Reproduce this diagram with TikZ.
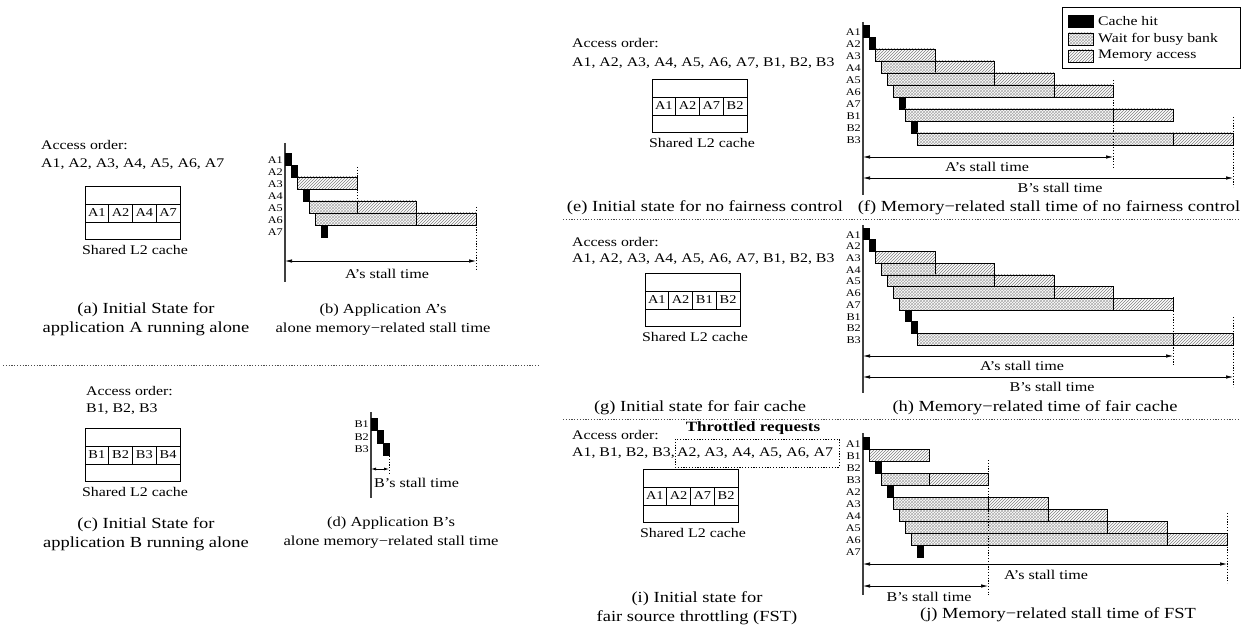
\documentclass[tikz,border=0pt]{standalone}
\usepackage{fontspec}
\setmainfont{Liberation Serif}[FakeStretch=1.2]
\usetikzlibrary{patterns,arrows.meta}
\newcommand{\cachebox}[7]{%
  \draw[line width=0.7pt] (#1,#2) rectangle ({#1+95},{#2+53});
  \node[cell] (#3c1) at ({#1+11.875},{#2+27}) {#4};
  \node[cell] (#3c2) at ({#1+35.625},{#2+27}) {#5};
  \node[cell] (#3c3) at ({#1+59.375},{#2+27}) {#6};
  \node[cell] (#3c4) at ({#1+83.125},{#2+27}) {#7};
  \node[shl] (#3lab) at ({#1+50},{#2+64}) {Shared L2 cache};
}
\begin{document}
\begin{tikzpicture}[x=1pt,y=-1pt,
  hitbar/.style={fill=black,draw=black,line width=0.6pt},
  waitbar/.style={draw=black,line width=0.6pt,preaction={fill=white},pattern=crosshatch,pattern color=gray!65},
  membar/.style={draw=black,line width=0.6pt,preaction={fill=white},pattern=north east lines,pattern color=gray},
  axisline/.style={line width=1.1pt,draw=black!75},
  guide/.style={line width=0.6pt,dash pattern=on 1.2pt off 1.6pt},
  sepline/.style={line width=0.7pt,dash pattern=on 1.2pt off 1.6pt,draw=black!70},
  stall/.style={line width=0.7pt,{Latex[length=7pt,width=3.5pt]}-{Latex[length=7pt,width=3.5pt]}},
  rowlab/.style={font=\fontsize{10.2}{10}\selectfont,anchor=east,inner sep=0pt},
  stlab/.style={font=\fontsize{13.4}{16}\selectfont,inner sep=0pt},
  acc/.style={font=\fontsize{13.2}{16}\selectfont,anchor=west,inner sep=0pt},
  capt/.style={font=\fontsize{15.4}{19}\selectfont,align=center,inner sep=0pt},
  captsm/.style={font=\fontsize{13.8}{19}\selectfont,align=center,inner sep=0pt},
  cell/.style={draw,line width=0.6pt,minimum width=23.75pt,minimum height=18pt,inner sep=0pt,font=\fontsize{12}{14}\selectfont},
  shl/.style={font=\fontsize{13.25}{16}\selectfont,inner sep=0pt},
  legtext/.style={font=\fontsize{13.1}{16}\selectfont,anchor=west,inner sep=0pt},
]
\useasboundingbox (0,0) rectangle (1250,631);

% ---------------- (a) ----------------
\node[acc] (aAcc) at (41,145) {Access order:};
\node[acc] (aOrd) at (41,164) {A1, A2, A3, A4, A5, A6, A7};
\cachebox{85}{186}{aC}{A1}{A2}{A4}{A7}
\node[capt] (aCap) at (146,319.5) {(a) Initial State for\\application A running alone};

% ---------------- (b) ----------------
\coordinate (bTop) at (285,143); \coordinate (bBot) at (285,282);
\draw[axisline] (bTop) -- (bBot);
\draw[hitbar] (285,153) rectangle (291,165);
\draw[hitbar] (291,165) rectangle (297,177);
\draw[membar] (297,177) rectangle (357,189);
\draw[hitbar] (303,189) rectangle (309,201);
\draw[waitbar] (309,201) rectangle (357,213);
\draw[membar] (357,201) rectangle (416,213);
\draw[waitbar] (315,213) rectangle (416,225);
\draw[membar] (416,213) rectangle (476,225);
\draw[hitbar] (321,225) rectangle (327,237);
\foreach \l [count=\k from 0] in {A1,A2,A3,A4,A5,A6,A7}
  \node[rowlab] (bL\l) at (283,{160+12*\k}) {\l};
\draw[guide] (357,167) -- (357,201);
\draw[guide] (476,207) -- (476,270);
\coordinate (bAs) at (285,261); \coordinate (bAe) at (476,261);
\draw[stall] (bAs) -- (bAe);
\node[stlab] (bAl) at (387,274) {A’s stall time};
\node[captsm] (bCap) at (383,319.5) {(b) Application A’s\\alone memory−related stall time};

% separator left
\coordinate (sL1) at (3,365); \coordinate (sL2) at (540,365);
\draw[sepline] (sL1) -- (sL2);

% ---------------- (c) ----------------
\node[acc] (cAcc) at (86,391) {Access order:};
\node[acc] (cOrd) at (86,409) {B1, B2, B3};
\cachebox{85}{428}{cC}{B1}{B2}{B3}{B4}
\node[capt] (cCap) at (146,534) {(c) Initial State for\\application B running alone};

% ---------------- (d) ----------------
\coordinate (dTop) at (371,412); \coordinate (dBot) at (371,498);
\draw[axisline] (dTop) -- (dBot);
\draw[hitbar] (371,418) rectangle (377,430.5);
\draw[hitbar] (377,430.5) rectangle (383,443);
\draw[hitbar] (383,443) rectangle (389,455.5);
\node[rowlab] (dL1) at (369,424) {B1};
\node[rowlab] (dL2) at (369,437) {B2};
\node[rowlab] (dL3) at (369,449.5) {B3};
\draw[guide] (389,456) -- (389,473);
\coordinate (dBs) at (371,469); \coordinate (dBe) at (389,469);
\draw[line width=0.7pt,{Latex[length=5pt,width=3pt]}-{Latex[length=5pt,width=3pt]}] (dBs) -- (dBe);
\node[stlab,anchor=west] (dBl) at (374,483) {B’s stall time};
\node[captsm] (dCap) at (391,533) {(d) Application B’s\\alone memory−related stall time};

% ---------------- (e) ----------------
\node[acc] (eAcc) at (572,43) {Access order:};
\node[acc] (eOrd) at (572,63) {A1, A2, A3, A4, A5, A6, A7, B1, B2, B3};
\cachebox{652}{79}{eC}{A1}{A2}{A7}{B2}
\node[capt] (eCap) at (705,208) {(e) Initial state for no fairness control};

% ---------------- (f) ----------------
\coordinate (fTop) at (863,22); \coordinate (fBot) at (863,195);
\draw[axisline] (fTop) -- (fBot);
\draw[hitbar] (863,25) rectangle (869,37);
\draw[hitbar] (869,37) rectangle (875,49);
\draw[membar] (875,49) rectangle (935,61);
\draw[waitbar] (881,61) rectangle (935,73);
\draw[membar] (935,61) rectangle (994,73);
\draw[waitbar] (887,73) rectangle (994,85);
\draw[membar] (994,73) rectangle (1054,85);
\draw[waitbar] (893,85) rectangle (1054,97);
\draw[membar] (1054,85) rectangle (1113,97);
\draw[hitbar] (899,97) rectangle (905,109);
\draw[waitbar] (905,109) rectangle (1113,121);
\draw[membar] (1113,109) rectangle (1173,121);
\draw[hitbar] (911,121) rectangle (917,133);
\draw[waitbar] (917,133) rectangle (1173,145);
\draw[membar] (1173,133) rectangle (1233,145);
\foreach \l [count=\k from 0] in {A1,A2,A3,A4,A5,A6,A7,B1,B2,B3}
  \node[rowlab] (fL\l) at (861,{32+12*\k}) {\l};
\draw[guide] (1113,80) -- (1113,167);
\draw[guide] (1233,117) -- (1233,187);
\coordinate (fAs) at (863,157); \coordinate (fAe) at (1113,157);
\draw[stall] (fAs) -- (fAe);
\node[stlab] (fAl) at (987,167) {A’s stall time};
\coordinate (fBs) at (863,178); \coordinate (fBe) at (1233,178);
\draw[stall] (fBs) -- (fBe);
\node[stlab] (fBl) at (1060,188) {B’s stall time};
\node[capt] (fCap) at (1049,208) {(f) Memory−related stall time of no fairness control};

% legend
\draw[line width=0.7pt] (1062,7) rectangle (1240,68);
\draw[hitbar] (1068,15) rectangle (1093,27);
\draw[waitbar] (1068,33) rectangle (1093,45);
\draw[membar] (1068,50) rectangle (1093,62);
\node[legtext] (lg1) at (1098,21) {Cache hit};
\node[legtext] (lg2) at (1098,39) {Wait for busy bank};
\node[legtext] (lg3) at (1098,56) {Memory access};

% separator 1
\coordinate (sR1a) at (563,219); \coordinate (sR1b) at (1240,219);
\draw[sepline] (sR1a) -- (sR1b);

% ---------------- (g) ----------------
\node[acc] (gAcc) at (572,242) {Access order:};
\node[acc] (gOrd) at (572,259) {A1, A2, A3, A4, A5, A6, A7, B1, B2, B3};
\cachebox{645}{273}{gC}{A1}{A2}{B1}{B2}
\node[capt] (gCap) at (700,408) {(g) Initial state for fair cache};

% ---------------- (h) ----------------
\coordinate (hTop) at (863,225); \coordinate (hBot) at (863,393);
\draw[axisline] (hTop) -- (hBot);
\draw[hitbar] (863,228) rectangle (869,239.7);
\draw[hitbar] (869,239.7) rectangle (875,251.4);
\draw[membar] (875,251.4) rectangle (935,263.1);
\draw[waitbar] (881,263.1) rectangle (935,274.8);
\draw[membar] (935,263.1) rectangle (994,274.8);
\draw[waitbar] (887,274.8) rectangle (994,286.5);
\draw[membar] (994,274.8) rectangle (1054,286.5);
\draw[waitbar] (893,286.5) rectangle (1054,298.2);
\draw[membar] (1054,286.5) rectangle (1113,298.2);
\draw[waitbar] (899,298.2) rectangle (1113,309.9);
\draw[membar] (1113,298.2) rectangle (1173,309.9);
\draw[hitbar] (905,309.9) rectangle (911,321.6);
\draw[hitbar] (911,321.6) rectangle (917,333.3);
\draw[waitbar] (917,333.3) rectangle (1173,345);
\draw[membar] (1173,333.3) rectangle (1233,345);
\foreach \l [count=\k from 0] in {A1,A2,A3,A4,A5,A6,A7,B1,B2,B3}
  \node[rowlab] (hL\l) at (861,{234.8+11.7*\k}) {\l};
\draw[guide] (1173,297) -- (1173,365);
\draw[guide] (1233,317) -- (1233,387);
\coordinate (hAs) at (863,356); \coordinate (hAe) at (1173,356);
\draw[stall] (hAs) -- (hAe);
\node[stlab] (hAl) at (1022,366) {A’s stall time};
\coordinate (hBs) at (863,377); \coordinate (hBe) at (1233,377);
\draw[stall] (hBs) -- (hBe);
\node[stlab] (hBl) at (1052,387) {B’s stall time};
\node[capt] (hCap) at (1035,408) {(h) Memory−related time of fair cache};

% separator 2
\coordinate (sR2a) at (563,419); \coordinate (sR2b) at (1240,419);
\draw[sepline] (sR2a) -- (sR2b);

% ---------------- (i) ----------------
\node[acc] (iAcc) at (572,435) {Access order:};
\node[acc] (iOrd) at (572,453) {A1, B1, B2, B3,};
\node[acc] (iThr) at (677,453) {A2, A3, A4, A5, A6, A7};
\draw[guide] (675,439) rectangle (839,467);
\node[font=\bfseries\fontsize{14.2}{17}\selectfont,inner sep=0pt] (iThrLab) at (753,428) {Throttled requests};
\cachebox{643}{469}{iC}{A1}{A2}{A7}{B2}
\node[capt] (iCap) at (697,608.5) {(i) Initial state for\\fair source throttling (FST)};

% ---------------- (j) ----------------
\coordinate (jTop) at (863,433); \coordinate (jBot) at (863,595);
\draw[axisline] (jTop) -- (jBot);
\draw[hitbar] (863,437) rectangle (869,449);
\draw[membar] (869,449) rectangle (929,461);
\draw[hitbar] (875,461) rectangle (881,473);
\draw[waitbar] (881,473) rectangle (929,485);
\draw[membar] (929,473) rectangle (988,485);
\draw[hitbar] (887,485) rectangle (893,497);
\draw[waitbar] (893,497) rectangle (988,509);
\draw[membar] (988,497) rectangle (1048,509);
\draw[waitbar] (899,509) rectangle (1048,521);
\draw[membar] (1048,509) rectangle (1107,521);
\draw[waitbar] (905,521) rectangle (1107,533);
\draw[membar] (1107,521) rectangle (1167,533);
\draw[waitbar] (911,533) rectangle (1167,545);
\draw[membar] (1167,533) rectangle (1227,545);
\draw[hitbar] (917,545) rectangle (923,557);
\foreach \l [count=\k from 0] in {A1,B1,B2,B3,A2,A3,A4,A5,A6,A7}
  \node[rowlab] (jL\l) at (861,{444+12*\k}) {\l};
\draw[guide] (988,460) -- (988,595);
\draw[guide] (1227,513) -- (1227,583);
\coordinate (jAs) at (863,564); \coordinate (jAe) at (1227,564);
\draw[stall] (jAs) -- (jAe);
\node[stlab] (jAl) at (1046,575) {A’s stall time};
\coordinate (jBs) at (863,586); \coordinate (jBe) at (988,586);
\draw[stall] (jBs) -- (jBe);
\node[stlab] (jBl) at (929,597) {B’s stall time};
\node[capt] (jCap) at (1058,615) {(j) Memory−related stall time of FST};
\end{tikzpicture}
\end{document}
